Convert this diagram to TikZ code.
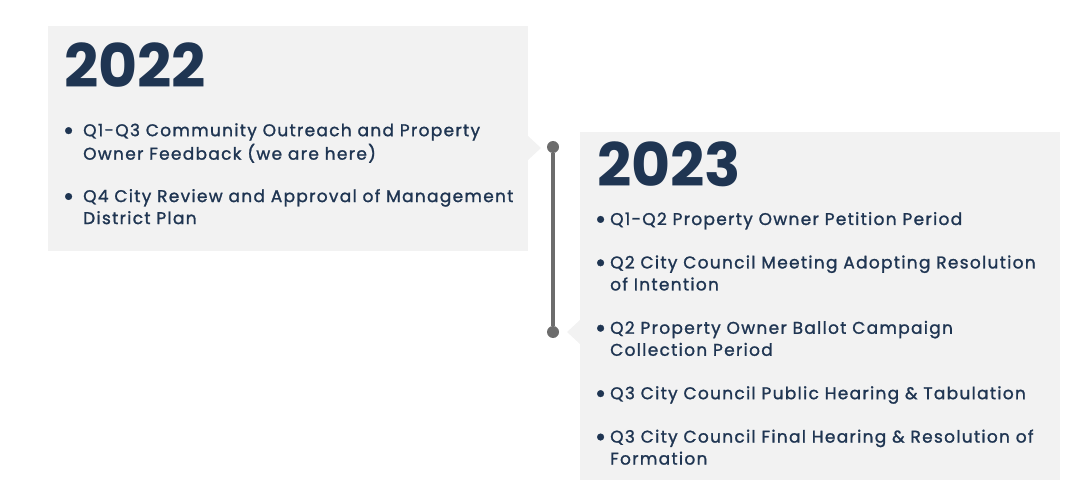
\documentclass[tikz,border=0pt]{standalone}
\usepackage{fontspec}
\setmainfont{Poppins}
\newfontfamily\entryfont{Poppins}[LetterSpace=7.6, FakeBold=1.3]
\newfontfamily\yearfont{Poppins}[LetterSpace=0]
\usepackage{tikz}
\usetikzlibrary{positioning}
\definecolor{navy}{RGB}{31,53,82}
\definecolor{panelgray}{RGB}{242,242,242}
\definecolor{railgray}{RGB}{108,108,108}
\newcommand\bul[1]{\llap{\raisebox{-3.5pt}{\scalebox{1.6}{\textbullet}}\hspace{#1}}}

\begin{document}
\begin{tikzpicture}[x=1pt, y=-1pt, node distance=21pt,
    panel/.style={fill=panelgray, inner sep=0, anchor=north west},
    year/.style={anchor=base west, inner sep=0, text=navy, font=\yearfont\fontsize{60}{60}\selectfont\bfseries},
    entry/.style={anchor=north west, inner sep=0, align=left, text=navy, font=\entryfont\fontsize{17}{22}\selectfont},
    dot/.style={circle, fill=railgray, inner sep=0, minimum size=12pt}]
    \useasboundingbox (0,0) rectangle (1080,500);

    \node (box22) [panel, minimum width=480pt, minimum height=225pt] at (48,26) {};
    \fill[panelgray] (528,136) -- (541,148) -- (528,160) -- cycle;
    \node (box23) [panel, minimum width=480pt, minimum height=348pt] at (580,132) {};
    \fill[panelgray] (580,320) -- (567,332) -- (580,344) -- cycle;

    \node (dtop) [dot] at (553,147) {};
    \node (dbot) [dot] at (553,332) {};
    \draw[railgray, line width=4pt] (dtop) -- (dbot);

    \node (y22) [year] at (64,88) {2022};
    \node (e221) [entry] at (83,120.6) {\bul{9pt}\strut Q1-Q3 Community Outreach and Property\\Owner Feedback (we are here)\strut};
    \node (e222) [entry, below right=20pt and 0pt of e221.south west] {\bul{9pt}\strut Q4 City Review and Approval of Management\\District Plan\strut};

    \node (y23) [year] at (597,186) {2023};
    \node (e231) [entry] at (610,209.4) {\bul{4pt}\strut Q1-Q2 Property Owner Petition Period\strut};
    \node (e232) [entry, below right=21pt and 0pt of e231.south west] {\bul{4pt}\strut Q2 City Council Meeting Adopting Resolution\\of Intention\strut};
    \node (e233) [entry, below right=21pt and 0pt of e232.south west] {\bul{4pt}\strut Q2 Property Owner Ballot Campaign\\Collection Period\strut};
    \node (e234) [entry, below right=21pt and 0pt of e233.south west] {\bul{4pt}\strut Q3 City Council Public Hearing \& Tabulation\strut};
    \node (e235) [entry, below right=21pt and 0pt of e234.south west] {\bul{4pt}\strut Q3 City Council Final Hearing \& Resolution of\\Formation\strut};
\end{tikzpicture}
\end{document}
